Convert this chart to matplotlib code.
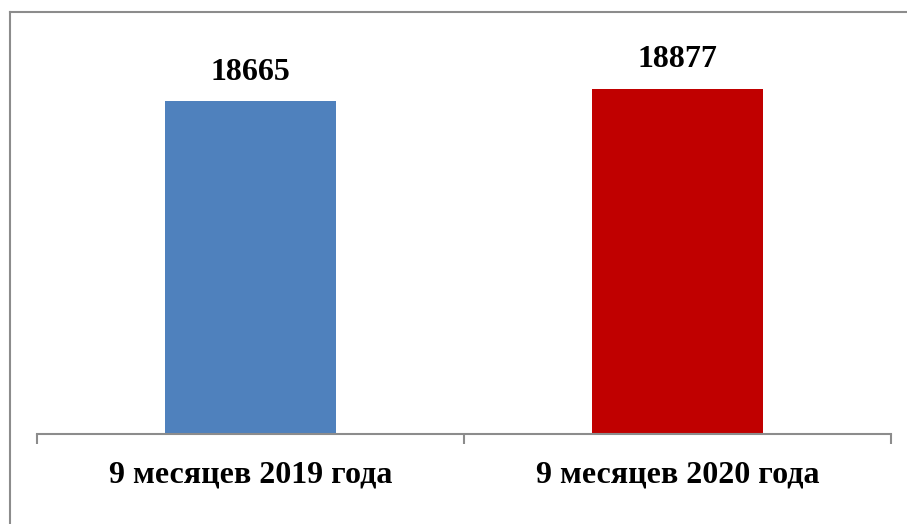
import matplotlib.pyplot as plt
import matplotlib.lines as lines

categories = ["9 месяцев 2019 года", "9 месяцев 2020 года"]
values = [18665, 18877]
colors = ["#4f81bd", "#c00000"]

W, H = 907, 524
fig = plt.figure(figsize=(W / 100, H / 100), dpi=100)

# plot area in pixel terms
x0, x1 = 37, 891
y_base, y_top = 434, 23
ax = fig.add_axes([x0 / W, (H - y_base) / H, (x1 - x0) / W, (y_base - y_top) / H])

pos = [0, 1]
ax.bar(pos, values, width=0.4, color=colors, zorder=2)
ax.set_xlim(-0.5, 1.5)
ax.set_ylim(13000, 20000)

for p, v in zip(pos, values):
    ax.text(p, v + 250, str(v), ha="center", va="bottom",
            fontsize=23, fontweight="bold", family="Liberation Serif")

for s in ["top", "right", "left"]:
    ax.spines[s].set_visible(False)
ax.spines["bottom"].set_color("#8c8c8c")
ax.spines["bottom"].set_linewidth(1.5)
ax.set_yticks([])
ax.set_xticks([-0.5, 0.5, 1.5])
ax.set_xticklabels([])
ax.tick_params(axis="x", length=7, width=1.5, color="#8c8c8c")

for p, c in zip(pos, categories):
    ax.text(p, -0.1, c, transform=ax.get_xaxis_transform(), ha="center", va="center",
            fontsize=23, fontweight="bold", family="Liberation Serif")

# outer frame (left and top only visible)
fig.add_artist(lines.Line2D([10 / W, 10 / W], [0, 1 - 12 / H], color="#8c8c8c", lw=1.5))
fig.add_artist(lines.Line2D([10 / W, 1], [1 - 12 / H, 1 - 12 / H], color="#8c8c8c", lw=1.5))

fig.savefig("out.png", dpi=100)
